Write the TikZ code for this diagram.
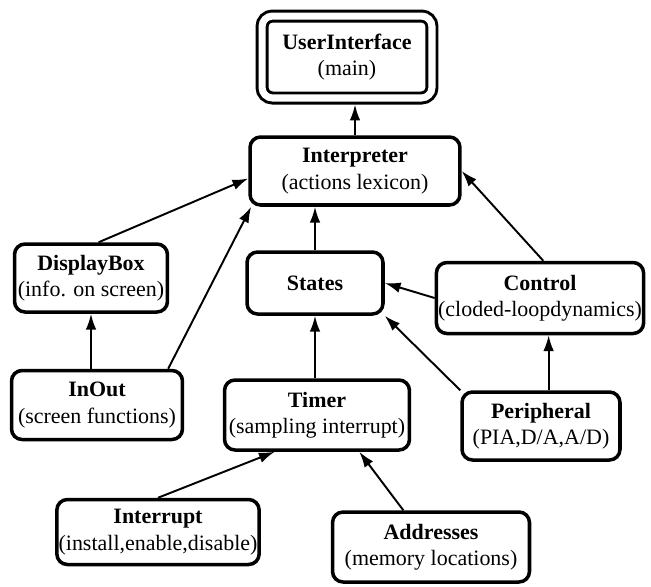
\documentclass[tikz,border=0pt]{standalone}
\usepackage{fontspec}
\setmainfont{Liberation Serif}
\usetikzlibrary{arrows.meta}

\begin{document}
\begin{tikzpicture}
[x=0.02cm,y=-0.02cm,
 >={Latex[length=9pt,width=6pt]},
 module/.style={draw,line width=2pt,rounded corners=6pt,align=center,inner sep=1pt,
   font=\fontsize{12.5}{15}\selectfont},
 link/.style={->,line width=1.1pt}]
\useasboundingbox (0,0) rectangle (651,586);

\node[module,double,double distance=4pt,line width=1.7pt,outer sep=3.7pt,
  minimum width=3.4cm,minimum height=1.64cm] (ui) at (347,57) {\textbf{UserInterface}\\(main)};
\node[module,minimum width=4.2cm,minimum height=1.36cm] (inter) at (355,171) {\textbf{Interpreter}\\(actions lexicon)};
\node[module,minimum width=3.06cm,minimum height=1.36cm] (disp) at (91,278) {\textbf{DisplayBox}\\(info. on screen)};
\node[module,minimum width=2.72cm,minimum height=1.24cm] (states) at (315,283) {\textbf{States}};
\node[module,minimum width=4.1cm,minimum height=1.42cm] (ctrl) at (540,298) {\textbf{Control}\\(cloded-loopdynamics)};
\node[module,minimum width=3.42cm,minimum height=1.38cm] (inout) at (97,405) {\textbf{InOut}\\(screen functions)};
\node[module,minimum width=3.7cm,minimum height=1.4cm] (timer) at (317,415) {\textbf{Timer}\\(sampling interrupt)};
\node[module,minimum width=3.16cm,minimum height=1.36cm] (periph) at (541,426) {\textbf{Peripheral}\\(PIA,D/A,A/D)};
\node[module,minimum width=3.8cm,minimum height=1.3cm] (intr) at (158,532) {\textbf{Interrupt}\\(install,enable,disable)};
\node[module,minimum width=3.94cm,minimum height=1.4cm] (addr) at (431,547) {\textbf{Addresses}\\(memory locations)};

% dependencies
\draw[link] (inter.north) -- (inter.north |- ui.south);
\draw[link] (disp.78) -- (inter.184);
\draw[link] (inout.27) -- (inter.199);
\draw[link] (states.north) -- (states.north |- inter.south);
\draw[link] (ctrl.85) -- (inter.east);
\draw[link] (ctrl.west) -- (states.east);
\draw[link] (disp.south |- inout.north) -- (disp.south);
\draw[link] (states.south |- timer.north) -- (states.south);
\draw[link] (periph.north west) -- (states.south east);
\draw[link] (periph.78) -- (periph.78 |- ctrl.south);
\draw[link] (intr.north) -- (timer.221);
\draw[link] (addr.127) -- (timer.319);
\end{tikzpicture}
\end{document}
